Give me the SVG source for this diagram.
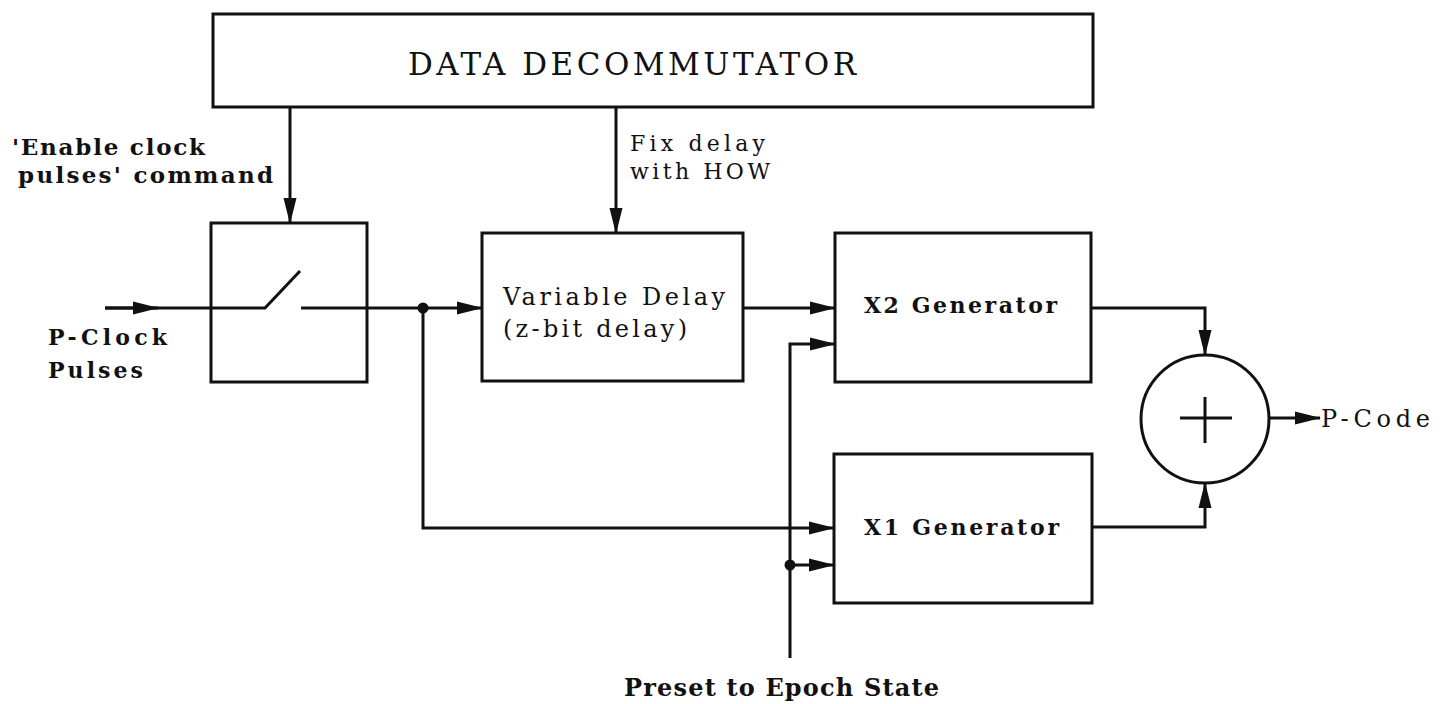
<svg xmlns="http://www.w3.org/2000/svg" width="1448" height="704" viewBox="0 0 1448 704">
  <defs>
    <marker id="arrow" markerWidth="26" markerHeight="16" refX="25" refY="8" orient="auto" markerUnits="userSpaceOnUse">
      <path d="M0,1.5 L26,8 L0,14.5 z" fill="#111"/>
    </marker>
    <style>
      .box { fill: none; stroke: #111; stroke-width: 3; }
      .wire { fill: none; stroke: #111; stroke-width: 3; }
      .dot { fill: #111; }
      .reg { font-family: "DejaVu Serif", "Liberation Serif", serif; fill: #111; }
      .bold { font-family: "DejaVu Serif", "Liberation Serif", serif; font-weight: bold; fill: #111; }
    </style>
  </defs>
  <rect width="1448" height="704" fill="#fff"/>

  <!-- data decommutator -->
  <g id="decommutator">
    <rect class="box" x="213" y="14" width="880" height="93"/>
    <text class="reg" x="408" y="75" font-size="31" textLength="448" lengthAdjust="spacing">DATA DECOMMUTATOR</text>
  </g>

  <!-- clock gate switch -->
  <g id="switch">
    <rect class="box" x="211" y="223" width="156" height="159"/>
    <path class="wire" d="M211,308 H265 L300,271"/>
    <path class="wire" d="M301,308 H367"/>
  </g>

  <!-- variable delay -->
  <g id="delay">
    <rect class="box" x="482" y="233" width="261" height="148"/>
    <text class="reg" x="503" y="305" font-size="24" textLength="222" lengthAdjust="spacing">Variable Delay</text>
    <text class="reg" x="503" y="337" font-size="24" textLength="184" lengthAdjust="spacing">(z-bit delay)</text>
  </g>

  <!-- X2 generator -->
  <g id="x2gen">
    <rect class="box" x="835" y="233" width="256" height="149"/>
    <text class="bold" x="864" y="313" font-size="22" textLength="193" lengthAdjust="spacing">X2 Generator</text>
  </g>

  <!-- X1 generator -->
  <g id="x1gen">
    <rect class="box" x="834" y="454" width="258" height="149"/>
    <text class="bold" x="864" y="535" font-size="22" textLength="195" lengthAdjust="spacing">X1 Generator</text>
  </g>

  <!-- modulo-2 adder -->
  <g id="adder">
    <circle class="box" cx="1205" cy="419" r="64"/>
    <path class="wire" d="M1180,418 H1232 M1205,397 V443" stroke-width="2.5"/>
  </g>

  <!-- connectors -->
  <g id="connectors">
    <path class="wire" d="M290,107 V223" marker-end="url(#arrow)"/>
    <path class="wire" d="M616,107 V233" marker-end="url(#arrow)"/>
    <path class="wire" d="M105,308 H211"/>
    <path class="wire" d="M105,308 H158" marker-end="url(#arrow)"/>
    <path class="wire" d="M367,308 H482" marker-end="url(#arrow)"/>
    <path class="wire" d="M743,308 H835" marker-end="url(#arrow)"/>
    <path class="wire" d="M423,308 V528 H834" marker-end="url(#arrow)"/>
    <path class="wire" d="M790,658 V344 H835" marker-end="url(#arrow)"/>
    <path class="wire" d="M790,565 H834" marker-end="url(#arrow)"/>
    <path class="wire" d="M1091,308 H1205 V355" marker-end="url(#arrow)"/>
    <path class="wire" d="M1092,527 H1205 V483" marker-end="url(#arrow)"/>
    <path class="wire" d="M1269,418 H1320" marker-end="url(#arrow)"/>
    <circle class="dot" cx="423" cy="308" r="5.5"/>
    <circle class="dot" cx="790" cy="565" r="5.5"/>
  </g>

  <!-- signal labels -->
  <g id="labels">
    <text class="bold" x="12" y="155" font-size="23" textLength="193" lengthAdjust="spacing">'Enable clock</text>
    <text class="bold" x="18" y="183" font-size="23" textLength="255" lengthAdjust="spacing">pulses' command</text>
    <text class="reg" x="630" y="151" font-size="22" textLength="135" lengthAdjust="spacing">Fix delay</text>
    <text class="reg" x="630" y="179" font-size="22" textLength="140" lengthAdjust="spacing">with HOW</text>
    <text class="bold" x="48" y="345" font-size="22" textLength="119" lengthAdjust="spacing">P-Clock</text>
    <text class="bold" x="48" y="378" font-size="22" textLength="95" lengthAdjust="spacing">Pulses</text>
    <text class="reg" x="1321" y="427" font-size="24" textLength="109" lengthAdjust="spacing">P-Code</text>
    <text class="bold" x="624" y="696" font-size="24" textLength="315" lengthAdjust="spacing">Preset to Epoch State</text>
  </g>
</svg>
